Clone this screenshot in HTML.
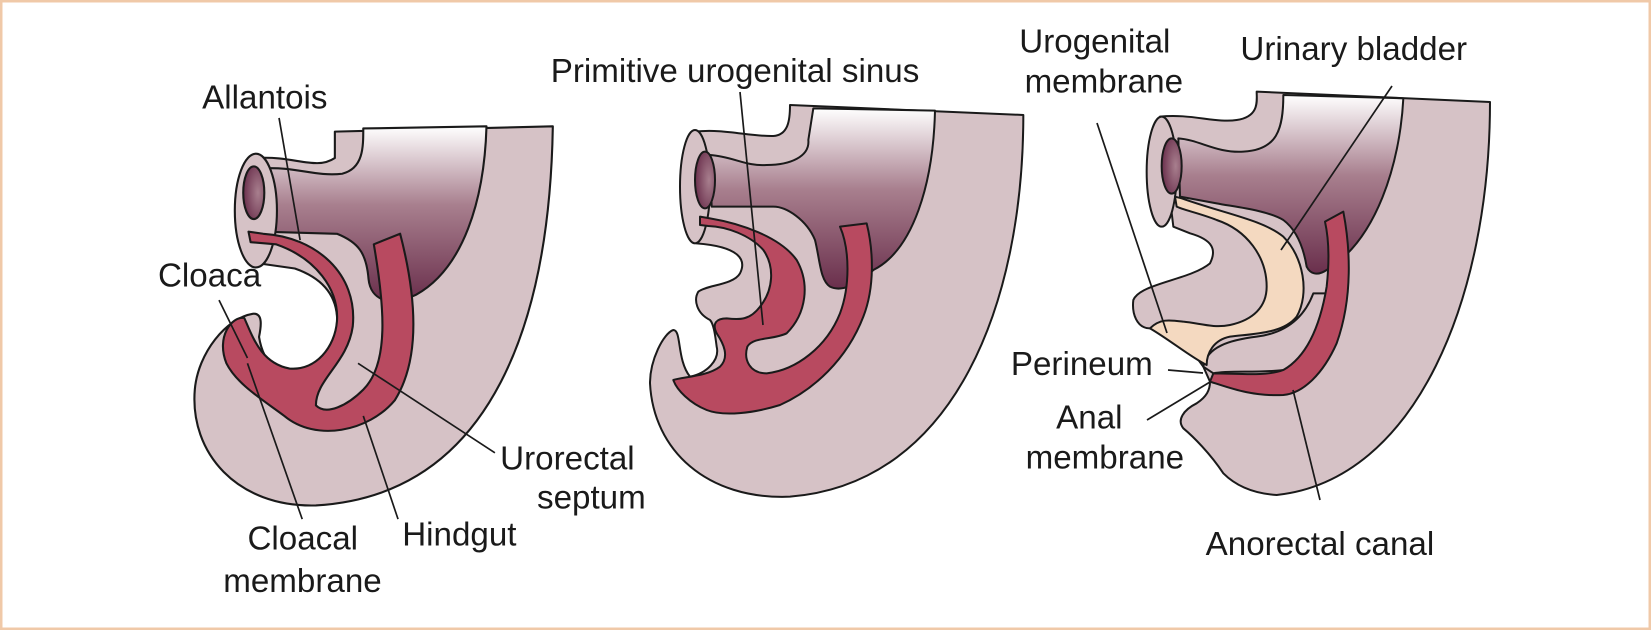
<!DOCTYPE html>
<html><head><meta charset="utf-8"><style>
html,body{margin:0;padding:0;background:#fff}
svg{display:block}
text{font-family:"Liberation Sans",sans-serif;font-size:31.5px;fill:#1a1a1a}
</style></head><body>
<svg width="1651" height="630" viewBox="0 0 1651 630" xmlns="http://www.w3.org/2000/svg">
<defs>
<linearGradient id="g" x1="0" y1="0" x2="0" y2="1">
<stop offset="0" stop-color="#ffffff"/><stop offset="0.45" stop-color="#a87f8e"/><stop offset="1" stop-color="#6a2f4c"/>
</linearGradient>
<radialGradient id="lum" cx="0.7" cy="0.5" r="0.7"><stop offset="0" stop-color="#a87f8e"/><stop offset="1" stop-color="#6a2f4c"/></radialGradient>
</defs>
<rect x="1" y="1" width="1649" height="628" fill="#fff" stroke="#f0c9a8" stroke-width="3"/>

<!-- panel 2 (zoom coords) -->
<g transform="translate(640,100) scale(0.33333)" stroke="#1a1a1a" stroke-width="6" stroke-linejoin="round">
<path fill="#d6c2c6" d="M450,15 L1150,45 C1150,600 950,1150 450,1190 C200,1200 40,1050 30,850 C30,780 70,700 100,690 C125,690 110,780 150,830 C200,820 240,780 230,740 C225,700 220,670 210,660 C170,640 160,600 175,575 C200,555 280,555 300,520 C320,480 300,440 170,430 L165,95 C250,85 330,110 400,108 C445,105 450,60 450,15 Z"/>
<path fill="url(#g)" d="M520,25 L885,32 C880,250 820,450 700,510 C650,560 600,575 570,560 C540,540 540,480 525,420 C500,360 440,320 400,320 L215,320 L210,165 C280,170 320,200 380,195 C450,195 510,170 505,120 Z"/>
<ellipse cx="165" cy="260" rx="45" ry="170" fill="#d6c2c6"/>
<ellipse cx="195" cy="240" rx="30" ry="85" fill="url(#lum)"/>
<path fill="#b84a60" d="M180,350 L210,355 C300,370 420,410 470,480 C510,550 500,640 440,700 C400,720 340,710 322,740 C310,780 330,820 380,820 C470,810 560,740 600,640 C630,560 630,450 600,380 L680,370 C700,450 705,560 670,650 C620,780 520,870 420,915 C340,940 250,950 200,930 C150,910 110,870 100,840 C130,830 200,830 240,800 C270,770 250,730 230,700 C215,670 230,655 260,655 C300,660 330,660 360,620 C400,570 405,500 370,450 C330,405 260,380 205,378 L180,375 Z"/>
</g>

<!-- panel 3 (zoom coords) -->
<g transform="translate(1050,80) scale(0.33333)" stroke="#1a1a1a" stroke-width="6" stroke-linejoin="round">
<path fill="#d6c2c6" d="M620,35 L1320,66 C1320,650 1100,1200 680,1245 C600,1240 550,1210 520,1180 C480,1120 430,1070 400,1045 C380,1020 400,990 440,970 C470,950 480,930 480,905 L460,860 C420,800 360,760 300,745 C260,745 245,700 250,660 C270,610 420,600 480,550 C500,510 490,480 420,460 L370,440 L330,110 C420,100 500,130 560,120 C630,110 620,60 620,35 Z"/>
<path fill="url(#g)" d="M700,45 L1060,55 C1050,250 980,480 830,570 C800,590 780,580 770,560 C760,500 740,450 700,420 C650,390 550,380 500,370 L390,350 L385,175 C450,180 500,220 580,215 C680,210 700,150 700,45 Z"/>
<ellipse cx="335" cy="275" rx="45" ry="165" fill="#d6c2c6"/>
<ellipse cx="365" cy="258" rx="30" ry="83" fill="url(#lum)"/>
<path fill="#d6c2c6" d="M460,860 C470,800 540,780 620,770 C700,760 760,720 790,640 L840,640 C830,760 760,860 700,870 C620,880 540,870 490,880 Z"/>
<path fill="#f4d9c0" d="M375,350 L395,355 C520,400 640,420 700,470 C760,530 780,640 740,710 C700,760 620,760 540,770 C490,780 470,820 470,855 C420,830 360,780 300,745 C330,715 360,720 400,725 C450,730 490,745 540,735 C610,720 650,680 650,620 C650,530 590,450 500,420 C450,400 400,390 380,380 Z"/>
<path fill="#b84a60" d="M825,425 L880,395 C900,500 910,650 860,790 C820,880 760,940 700,945 C600,950 530,920 480,905 L490,880 C560,880 650,890 700,870 C770,830 810,740 830,620 C840,530 835,470 825,425 Z"/>
</g>

<g stroke="#1a1a1a" stroke-width="1.7" fill="none">
<line x1="740" y1="92" x2="763" y2="325"/>
<line x1="1097" y1="123" x2="1167" y2="333"/>
<line x1="1392" y1="86" x2="1281" y2="250"/>
<line x1="1168" y1="370" x2="1203" y2="373"/>
<line x1="1147" y1="420" x2="1210" y2="382"/>
<line x1="1293" y1="390" x2="1320" y2="500"/>
</g>

<g transform="scale(1.053)">
<!-- panel 1 -->
<g stroke="#1a1a1a" stroke-width="2" stroke-linejoin="round">
<path fill="#d6c2c6" d="M318,125 L525,120 C522,300 470,470 300,480 C225,482 180,430 185,370 C188,335 215,302 240,298 C250,297 248,310 246,320 C250,345 265,360 290,355 C305,340 322,325 320,300 C318,275 300,262 280,255 L245,250 L245,150 C280,148 300,162 318,150 Z"/>
<path fill="url(#g)" d="M345,122 L462,120 C460,190 440,255 395,280 C370,292 352,285 350,265 C348,240 340,230 320,222 L250,220 L250,160 C280,158 300,168 325,165 C345,160 345,140 345,122 Z"/>
<ellipse cx="243" cy="200" rx="20" ry="54" fill="#d6c2c6"/>
<ellipse cx="241" cy="183" rx="10" ry="25" fill="url(#lum)"/>
<path fill="#b84a60" d="M236,220 L250,222 C300,225 340,260 335,310 C330,345 300,360 300,385 C310,395 330,385 345,370 C370,345 365,290 355,232 L380,222 C395,280 400,340 375,380 C350,410 300,420 270,395 C250,380 225,365 215,345 C205,320 220,300 232,302 C240,320 248,345 275,350 C300,352 318,330 320,305 C322,275 300,245 262,232 L238,230 Z"/>
</g>
<g stroke="#1a1a1a" stroke-width="1.6" fill="none">
<line x1="265" y1="112" x2="285" y2="228"/>
<line x1="208" y1="285" x2="235" y2="340"/>
<line x1="235" y1="345" x2="287" y2="493"/>
<line x1="345" y1="395" x2="378" y2="493"/>
<line x1="340" y1="345" x2="470" y2="430"/>
</g>
<text x="192" y="103">Allantois</text>
<text x="150" y="272">Cloaca</text>
<text x="475" y="446">Urorectal</text>
<text x="510" y="483">septum</text>
<text x="382" y="518">Hindgut</text>
<text x="235" y="522">Cloacal</text>
<text x="212" y="562">membrane</text>
<text x="523" y="78">Primitive urogenital sinus</text>
<text x="968" y="50">Urogenital</text>
<text x="973" y="88">membrane</text>
<text x="1178" y="57">Urinary bladder</text>
<text x="960" y="356">Perineum</text>
<text x="1003" y="407">Anal</text>
<text x="974" y="445">membrane</text>
<text x="1145" y="527">Anorectal canal</text>
</g>
</svg>
</body></html>
